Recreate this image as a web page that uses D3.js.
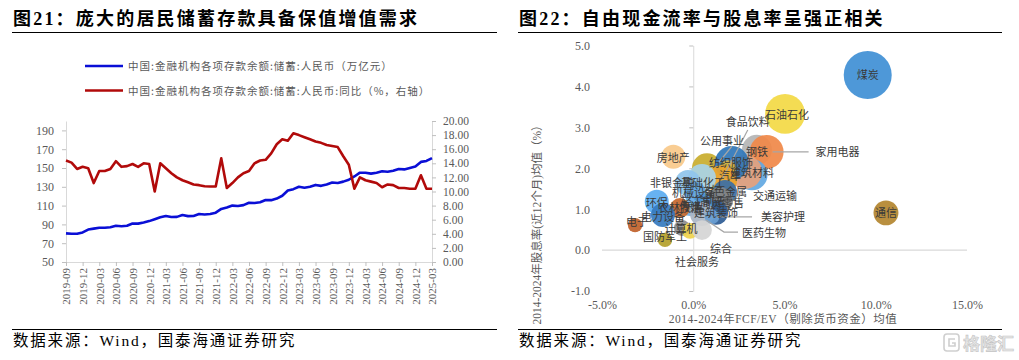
<!DOCTYPE html>
<html>
<head>
<meta charset="utf-8">
<script src="https://cdn.jsdelivr.net/npm/d3@7"></script>
<style>
  body { margin: 0; background: #fff; }
  svg { display: block; font-family: "Liberation Serif", "Noto Sans CJK SC", serif; }
</style>
</head>
<body>
<svg width="1019" height="360"></svg>
<script>
// ---------- 图21 data ----------
const firstMonth = new Date(2019, 8, 1);
const lastMonth = new Date(2025, 2, 1);
const months = d3.timeMonth.range(firstMonth, d3.timeMonth.offset(lastMonth, 1)).map(d3.timeFormat("%Y-%m"));

// 中国:金融机构各项存款余额:储蓄:人民币（万亿元）
const deposits = [
  80.5, 80.0, 80.0, 81.5, 84.5, 85.5, 86.5, 86.5, 87.0, 88.5, 88.0, 88.5,
  91.0, 90.8, 92.0, 93.5, 95.5, 97.5, 99.0, 97.8, 98.0, 100.0, 98.8, 99.0,
  101.0, 100.5, 101.0, 102.5, 106.5, 108.0, 110.0, 109.5, 110.5, 113.0, 112.8, 113.5,
  116.0, 115.8, 117.5, 120.5, 126.0, 127.5, 130.0, 129.0, 130.0, 132.0, 131.0, 132.5,
  134.5, 134.0, 135.5, 137.5, 141.0, 145.0, 145.0, 144.0, 145.0, 146.5, 146.0, 147.0,
  149.0, 148.5, 150.0, 151.5, 156.5, 157.5, 160.5
];
// 同比（%，右轴）
const depositsYoY = [
  14.4, 14.1, 13.2, 13.5, 13.3, 11.2, 12.9, 12.9, 13.2, 14.3, 13.5, 13.6,
  13.9, 13.5, 14.0, 13.9, 10.0, 14.0, 13.3, 12.6, 12.0, 11.6, 11.3, 11.0,
  10.9, 10.75, 10.7, 10.7, 14.7, 10.5, 11.2, 12.0, 12.6, 12.9, 14.0, 14.4,
  14.5, 15.4, 16.7, 17.4, 17.2, 18.25, 18.0, 17.7, 17.4, 17.1, 16.9, 16.6,
  16.45, 16.3, 15.0, 13.8, 10.4, 12.0, 11.6, 11.4, 11.2, 10.6, 11.0, 10.9,
  10.5, 10.5, 10.4, 10.4, 12.3, 10.4, 10.4
];
const leftTicks = [50, 70, 90, 110, 130, 150, 170, 190];
const rightTicks = [0, 2, 4, 6, 8, 10, 12, 14, 16, 18, 20];
const legendNames = ["中国:金融机构各项存款余额:储蓄:人民币（万亿元）", "中国:金融机构各项存款余额:储蓄:人民币:同比（%，右轴）"];

// ---------- 图22 data ----------
const industries = ["钢铁", "家用电器", "交通运输", "建筑材料", "公用事业", "食品饮料", "纺织服饰", "汽车",
  "基础化工", "非银金融", "有色金属", "商贸零售", "建筑装饰", "机械设备", "轻工制造", "传媒", "医药生物",
  "美容护理", "农林牧渔", "环保", "电力设备", "电子", "计算机", "国防军工", "社会服务", "综合", "房地产",
  "煤炭", "石油石化", "通信"];
const fcfEv = [3.49, 4.02, 3.22, 2.84, 0.75, 2.11, 1.90, 1.58,
  0.48, -0.29, 1.74, 1.47, 1.25, 0.10, 0.53, -0.18, 0.48,
  1.03, -0.73, -2.00, -1.66, -3.19, -0.62, -1.55, -0.18, 0.48, -1.09,
  9.56, 5.03, 10.56];
const dividend = [2.45, 2.40, 1.84, 1.91, 2.00, 2.13, 2.00, 1.71,
  1.76, 1.64, 1.42, 1.22, 0.91, 1.40, 1.15, 1.05, 0.88,
  0.81, 1.03, 1.18, 0.86, 0.61, 0.54, 0.25, 0.47, 0.49, 2.28,
  4.28, 3.33, 0.91];
const bubbleSize = [39, 50, 42, 50, 39, 50, 11, 39,
  34, 29, 25, 29, 25, 21, 17, 14, 25,
  9, 17, 25, 25, 9, 11, 9, 11, 17, 25,
  100, 69, 27];
const xTicks22 = [-5, 0, 5, 10, 15];
const yTicks22 = [-1, 0, 1, 2, 3, 4, 5];

// ---------- styles ----------
const bubbleColor = {
  "煤炭": "#3f8fd5", "石油石化": "#f3d944", "通信": "#b3852f", "家用电器": "#f08848", "钢铁": "#b4b4b4",
  "建筑材料": "#e6a17c", "交通运输": "#62a8e2", "公用事业": "#c9ad2c", "食品饮料": "#2f76b8", "纺织服饰": "#dcb53c",
  "汽车": "#e9a42c", "基础化工": "#a9d4e6", "非银金融": "#8fc4ec", "机械设备": "#5fa3dc", "有色金属": "#3a6ea5",
  "商贸零售": "#858585", "建筑装饰": "#2d5b94", "轻工制造": "#4e91cf", "传媒": "#6fb0e6", "医药生物": "#aab6c6",
  "美容护理": "#6a9fd4", "农林牧渔": "#c6672d", "环保": "#5aabf0", "电力设备": "#3579bf", "电子": "#c0612a",
  "计算机": "#8d8d8d", "国防军工": "#b3a02a", "社会服务": "#efd34c", "综合": "#d5d5d5", "房地产": "#f9c98a"
};
const labelOffset = {
  "家用电器": [71, 0], "钢铁": [0, 2], "建筑材料": [7, 1], "交通运输": [23, 21], "美容护理": [71, 0],
  "医药生物": [62, 19], "综合": [19, 19], "社会服务": [7, 31], "计算机": [-1, 1], "国防军工": [0, -3],
  "电子": [2, -3], "环保": [0, 1], "电力设备": [0, 2], "房地产": [0, 1], "非银金融": [-16, 0],
  "基础化工": [1, 5], "机械设备": [-1, 0], "轻工制造": [0, -1], "商贸零售": [2, 3], "纺织服饰": [3, -5],
  "汽车": [8, -4], "公用事业": [15, -27], "食品饮料": [16, -41], "石油石化": [2, 1]
};
const leaders = {
  "家用电器": [[6, 0], [42, 0]],
  "美容护理": [[5, 0], [40, 0]],
  "医药生物": [[4, 6], [22, 18], [36, 18]],
  "公用事业": [[12, -6], [25, -22]],
  "食品饮料": [[-9, 15], [16, -33]]
};

const svg = d3.select("svg");
const grey = "#595959";
const axisGrey = "#d9d9d9";

function header(x0, x1, title) {
  svg.append("text").attr("x", x0 + 1).attr("y", 25)
    .attr("font-size", 18).attr("font-weight", "bold").attr("fill", "#000")
    .attr("letter-spacing", 2.2).text(title);
  svg.append("line").attr("x1", x0).attr("x2", x1).attr("y1", 32.5).attr("y2", 32.5)
    .attr("stroke", "#000").attr("stroke-width", 1);
  svg.append("line").attr("x1", x0).attr("x2", x1).attr("y1", 329.5).attr("y2", 329.5)
    .attr("stroke", "#000").attr("stroke-width", 1);
  svg.append("text").attr("x", x0 + 1).attr("y", 346)
    .attr("font-size", 15.5).attr("fill", "#000").attr("letter-spacing", 1.8)
    .text("数据来源：Wind，国泰海通证券研究");
}

function styleAxis(g) {
  g.select(".domain").attr("stroke", axisGrey);
  g.selectAll(".tick line").attr("stroke", "#bfbfbf");
  g.selectAll(".tick text").attr("fill", grey).attr("font-size", 12)
    .attr("font-family", "'Liberation Serif', serif");
}

// ================= 图21 =================
header(12, 497, "图21：庞大的居民储蓄存款具备保值增值需求");

const x21 = d3.scalePoint().domain(months).range([66, 432]);
const yL = d3.scaleLinear().domain([50, 200]).range([262, 121]);
const yR = d3.scaleLinear().domain([0, 20]).range([262, 121]);

svg.append("g").attr("transform", "translate(66,0)")
  .call(d3.axisLeft(yL).tickValues(leftTicks).tickSize(4).tickSizeOuter(0).tickPadding(8))
  .call(styleAxis);

svg.append("g").attr("transform", "translate(432,0)")
  .call(d3.axisRight(yR).tickValues(rightTicks).tickSize(4).tickSizeOuter(0).tickPadding(7)
    .tickFormat(d => d.toFixed(2)))
  .call(styleAxis)
  .call(g => g.selectAll(".tick text").attr("font-size", 11.5));

const xAxis21 = svg.append("g").attr("transform", "translate(0,262)")
  .call(d3.axisBottom(x21).tickValues(months.filter((m, i) => i % 3 === 0)).tickSize(4).tickSizeOuter(0))
  .call(styleAxis);
xAxis21.selectAll(".tick text")
  .attr("transform", "rotate(-90)")
  .attr("text-anchor", "end")
  .attr("x", -6).attr("y", 0).attr("dy", "0.35em")
  .attr("font-size", 11);

const lineL = d3.line().x((d, i) => x21(months[i])).y(d => yL(d));
const lineR = d3.line().x((d, i) => x21(months[i])).y(d => yR(d));

svg.append("path").datum(deposits).attr("d", lineL)
  .attr("fill", "none").attr("stroke", "#0a0fd6").attr("stroke-width", 2.6).attr("stroke-linejoin", "round");
svg.append("path").datum(depositsYoY).attr("d", lineR)
  .attr("fill", "none").attr("stroke", "#b10a0a").attr("stroke-width", 2.6).attr("stroke-linejoin", "round");

const legend = svg.append("g");
const legendColors = ["#0a0fd6", "#b10a0a"];
legendNames.forEach((name, i) => {
  const y = 66 + i * 24.5;
  legend.append("line").attr("x1", 85).attr("x2", 123).attr("y1", y).attr("y2", y)
    .attr("stroke", legendColors[i]).attr("stroke-width", 2.6);
  legend.append("text").attr("x", 128).attr("y", y + 4)
    .attr("font-size", 10.5).attr("fill", grey).attr("letter-spacing", 1)
    .attr("font-family", "'Noto Sans CJK SC', sans-serif").text(name);
});

// ================= 图22 =================
header(518, 1002, "图22：自由现金流率与股息率呈强正相关");

const xB = d3.scaleLinear().domain([-5, 15]).range([602, 967]);
const yB = d3.scaleLinear().domain([-1, 5]).range([291, 45.5]);
const rB = d3.scaleSqrt().domain([0, 100]).range([0, 24]);

// tick labels at the low side
svg.append("g").attr("transform", `translate(0,${yB(-1)})`)
  .call(d3.axisBottom(xB).tickValues(xTicks22).tickSize(0).tickPadding(9).tickFormat(d => d.toFixed(1) + "%"))
  .call(styleAxis)
  .call(g => g.select(".domain").remove());
svg.append("g").attr("transform", `translate(${xB(-5)},0)`)
  .call(d3.axisLeft(yB).tickValues(yTicks22).tickSize(0).tickPadding(12).tickFormat(d => d.toFixed(1)))
  .call(styleAxis)
  .call(g => g.select(".domain").remove());

// axis lines crossing at zero
svg.append("g").attr("transform", `translate(${xB(0)},0)`)
  .call(d3.axisLeft(yB).tickValues(yTicks22).tickSize(4).tickSizeOuter(0).tickFormat(""))
  .call(styleAxis);
svg.append("line").attr("x1", xB(-5)).attr("x2", xB(15)).attr("y1", yB(0)).attr("y2", yB(0))
  .attr("stroke", axisGrey).attr("stroke-width", 1.2);

svg.append("text").attr("x", 783).attr("y", 323)
  .attr("text-anchor", "middle").attr("font-size", 11.5).attr("fill", grey)
  .attr("letter-spacing", 0.5)
  .text("2014-2024年FCF/EV（剔除货币资金）均值");
svg.append("text").attr("transform", "translate(541,222) rotate(-90)")
  .attr("text-anchor", "middle").attr("font-size", 11.5).attr("fill", grey)
  .text("2014-2024年股息率(近12个月)均值（%）");

const bubbles = industries.map((name, i) => ({
  name, x: fcfEv[i], y: dividend[i], s: bubbleSize[i]
}));

svg.append("g").selectAll("circle").data(bubbles).join("circle")
  .attr("cx", d => xB(d.x)).attr("cy", d => yB(d.y)).attr("r", d => rB(d.s))
  .attr("fill", d => bubbleColor[d.name]).attr("fill-opacity", 0.92);

const leaderG = svg.append("g");
Object.entries(leaders).forEach(([name, pts]) => {
  const d = bubbles.find(b => b.name === name);
  leaderG.append("path")
    .attr("d", d3.line()(pts.map(p => [xB(d.x) + p[0], yB(d.y) + p[1]])))
    .attr("fill", "none").attr("stroke", "#a6a6a6").attr("stroke-width", 1.2);
});

svg.append("g").selectAll("text").data(bubbles).join("text")
  .attr("x", d => xB(d.x) + (labelOffset[d.name] || [0, 0])[0])
  .attr("y", d => yB(d.y) + (labelOffset[d.name] || [0, 0])[1])
  .attr("dy", "0.36em")
  .attr("text-anchor", "middle")
  .attr("font-size", 11).attr("fill", "#3a3a3a")
  .attr("font-family", "'Noto Sans CJK SC', sans-serif")
  .text(d => d.name);

// watermark
const wm = svg.append("g").attr("fill", "none").attr("stroke", "#cfcfcf").attr("stroke-width", 1.6);
wm.append("rect").attr("x", 944).attr("y", 334).attr("width", 15).attr("height", 17).attr("rx", 3);
wm.append("path").attr("d", "M955,339 h-6 v7 h6 v-3 h-3");
svg.append("text").attr("x", 963).attr("y", 350)
  .attr("font-size", 17).attr("font-weight", "bold").attr("fill", "#e6e6e6")
  .attr("stroke", "#c4c4c4").attr("stroke-width", 0.6)
  .attr("font-family", "'Noto Sans CJK SC', sans-serif").text("格隆汇");
</script>
</body>
</html>
